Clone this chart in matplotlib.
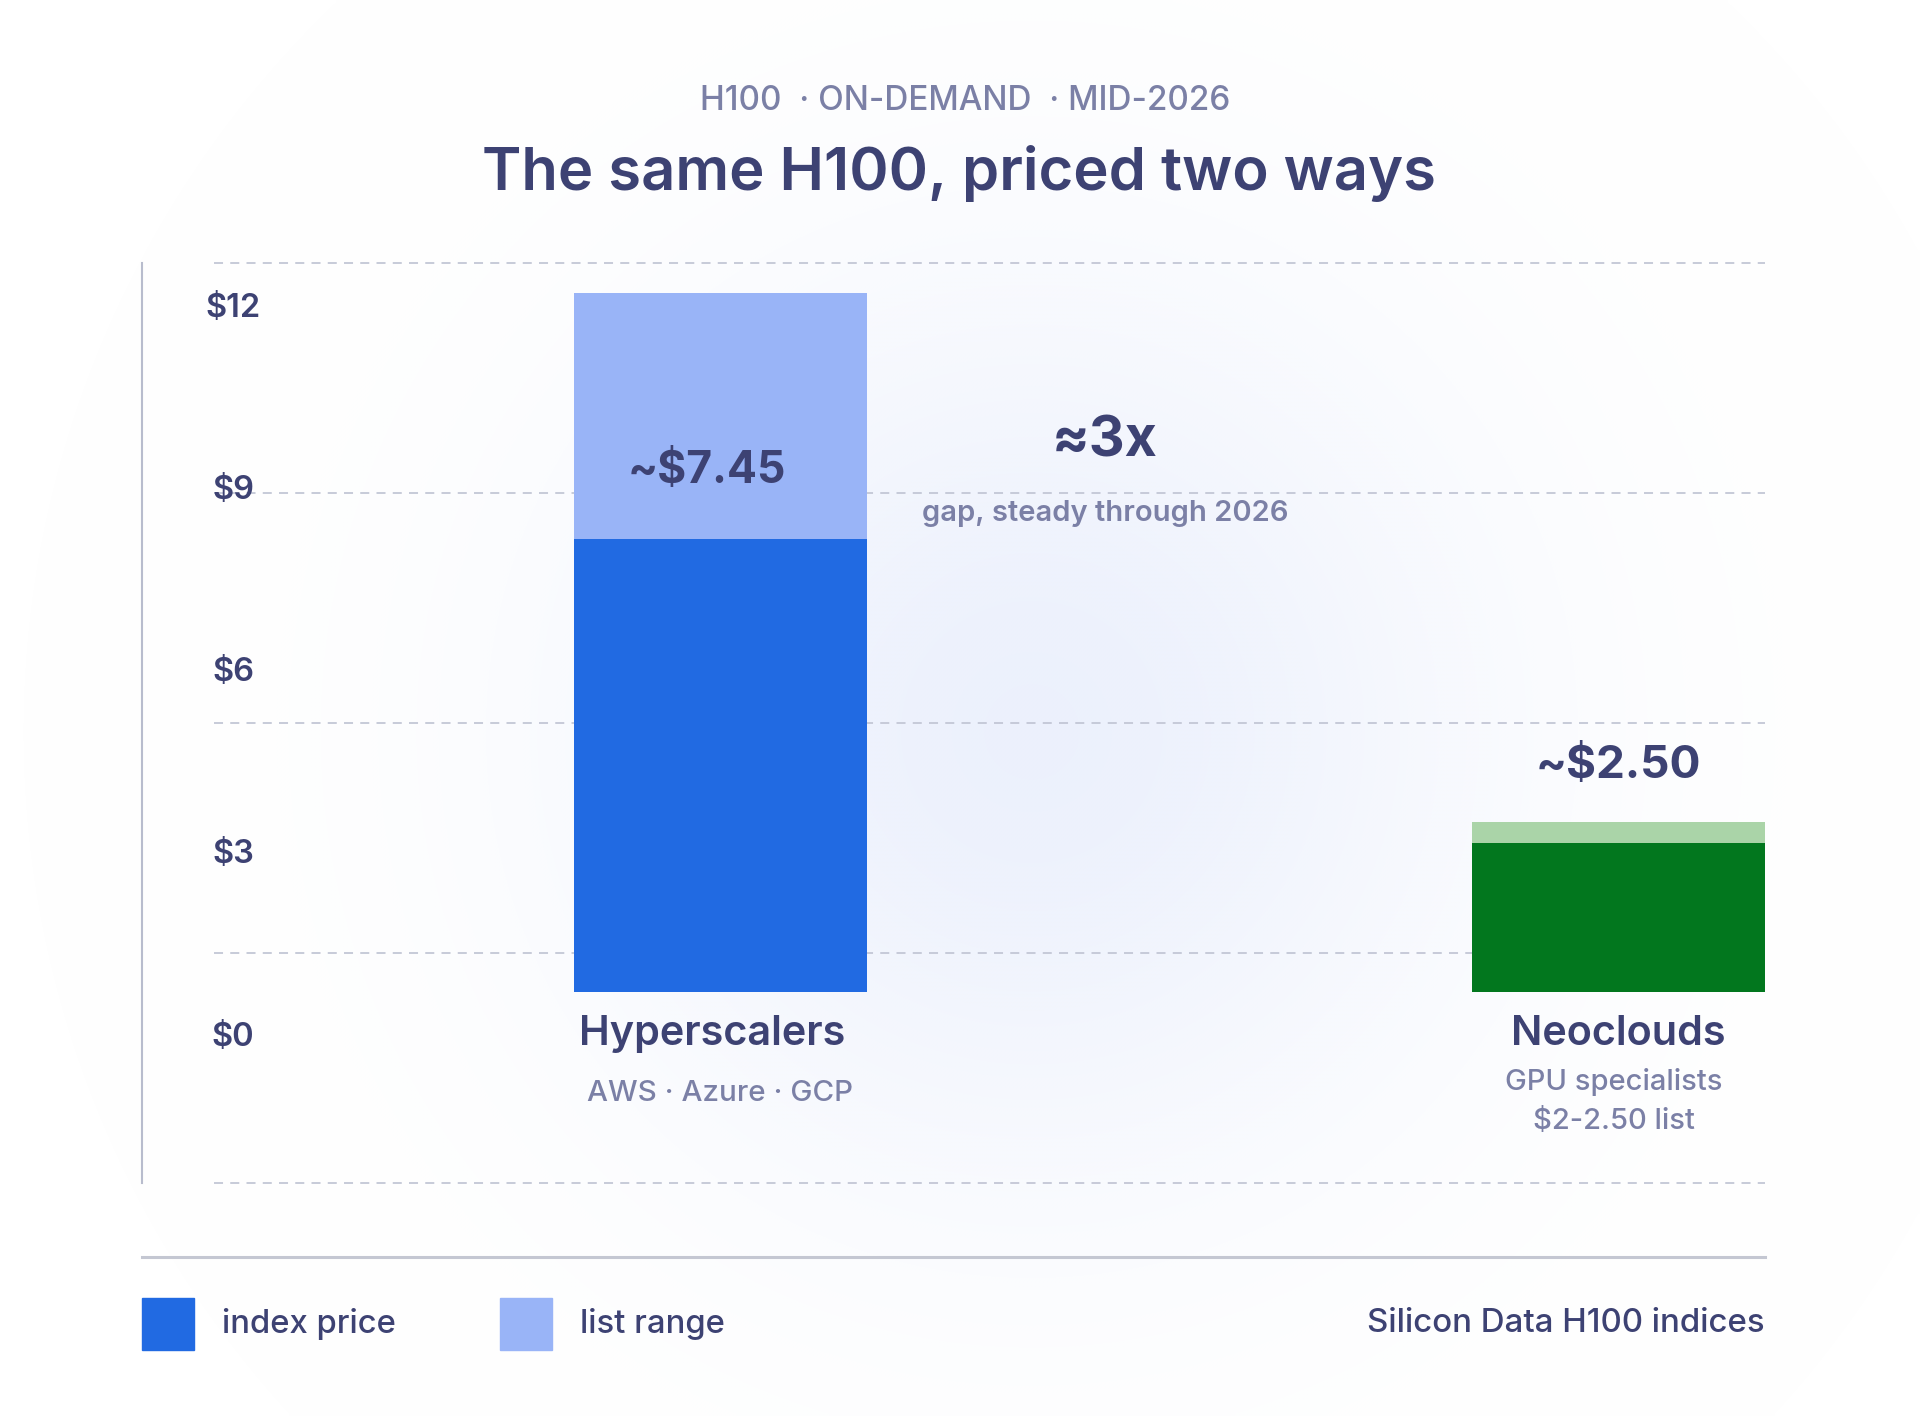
import numpy as np
import matplotlib
matplotlib.use("Agg")
import matplotlib.pyplot as plt
from matplotlib.patches import Rectangle
from matplotlib.lines import Line2D

plt.rcParams['font.family'] = ['Inter', 'DejaVu Sans']

# ---- data ----
categories = ["Hyperscalers", "Neoclouds"]
sub_labels = ["AWS · Azure · GCP", "GPU specialists\n$2-2.50 list"]
index_price = [7.45, 2.45]
list_high = [11.5, 2.8]
price_labels = ["~$7.45", "~$2.50"]
tick_vals = [0, 3, 6, 9, 12]
tick_labels = ["$0", "$3", "$6", "$9", "$12"]

NAVY = "#3d4273"
GREY = "#7b80a6"
BLUE = "#216ae2"
LBLUE = "#99b4f7"
GREEN = "#02771e"
LGREEN = "#aad4a8"
GRID = "#c3c7d6"

W, H = 1920, 1416
fig = plt.figure(figsize=(W / 100, H / 100), dpi=100)
fig.patch.set_facecolor("white")


def fx(x):
    return x / W


def fy(y):
    return 1 - y / H


# soft glow behind the chart
bg = fig.add_axes([0, 0, 1, 1], zorder=-10)
gy, gx = np.mgrid[0:H:4, 0:W:4]
r = np.hypot(gx - 1030, gy - 730)
glow = np.zeros(gx.shape + (4,))
glow[..., :3] = matplotlib.colors.to_rgb("#e6ecfc")
glow[..., 3] = 0.75 * np.exp(-(r / 440) ** 2)
bg.imshow(glow, extent=[0, W, H, 0], aspect="auto", interpolation="bilinear")
bg.set_xlim(0, W)
bg.set_ylim(H, 0)
bg.axis("off")

# ---- main axes ----
ax = fig.add_axes([fx(142), fy(1183), fx(1765) - fx(142), (1183 - 263) / H])
ax.set_facecolor("none")
x = np.arange(len(categories))
bw = 0.326
ax.bar(x, index_price, width=bw, color=[BLUE, GREEN], zorder=3)
ax.bar(x, np.subtract(list_high, index_price), bottom=index_price, width=bw,
       color=[LBLUE, LGREEN], zorder=3)
ax.set_xlim(-0.644, 1.163)
ax.set_ylim(-3.15, 12.0)

for s in ["top", "right", "bottom"]:
    ax.spines[s].set_visible(False)
ax.spines["left"].set_color("#b8bccd")
ax.spines["left"].set_linewidth(1.5)
ax.set_xticks([])

ax.set_yticks(np.array(tick_vals) - 0.69, tick_labels)
ax.tick_params(axis="y", length=0, pad=-65.5, labelsize=23.5, labelcolor=NAVY)
for t in ax.get_yticklabels():
    t.set_ha("center")
    t.set_fontweight("semibold")

lo, hi = ax.get_ylim()
for f in np.linspace(0, 1, 5):
    ax.hlines(lo + f * (hi - lo), -0.564, 1.163, colors=GRID,
              linestyles=(0, (5, 4)), lw=1.3, zorder=1, clip_on=False)

# price labels
ax.text(-0.015, 8.58, price_labels[0], ha="center", va="center",
        fontsize=32, fontweight="bold", color=NAVY, zorder=5)
ax.text(1.0, 3.71, price_labels[1], ha="center", va="center",
        fontsize=33, fontweight="bold", color=NAVY, zorder=5)

# gap annotation
ax.text(0.428, 9.06, "≈3x", ha="center", va="center",
        fontsize=40, fontweight="bold", color=NAVY)
ax.text(0.428, 7.87, "gap, steady through 2026", ha="center", va="center",
        fontsize=21, fontweight="semibold", color=GREY)

# category labels
ax.text(-0.009, -0.69, categories[0], ha="center", va="center",
        fontsize=29.8, fontweight="semibold", color=NAVY)
ax.text(0.0, -1.68, sub_labels[0], ha="center", va="center",
        fontsize=21.3, fontweight="medium", color=GREY)
ax.text(1.0, -0.69, categories[1], ha="center", va="center",
        fontsize=29.8, fontweight="semibold", color=NAVY)
ax.text(0.995, -1.81, sub_labels[1], ha="center", va="center",
        fontsize=21, fontweight="medium", color=GREY, linespacing=1.6)

# ---- titles ----
fig.text(fx(965), fy(101), "H100  · ON-DEMAND  · MID-2026", ha="center", va="center",
         fontsize=24, fontweight="medium", color=GREY)
fig.text(fx(959), fy(174), "The same H100, priced two ways", ha="center", va="center",
         fontsize=43, fontweight="semibold", color=NAVY)

# ---- footer ----
fig.add_artist(Line2D([fx(142), fx(1765)], [fy(1257)] * 2, color="#c4c7d2", lw=2.2))
fig.add_artist(Rectangle((fx(142), fy(1350)), 52 / W, 52 / H, color=BLUE,
                         transform=fig.transFigure))
fig.text(fx(222), fy(1324), "index price", ha="left", va="center",
         fontsize=23.6, fontweight="medium", color=NAVY)
fig.add_artist(Rectangle((fx(500), fy(1350)), 52 / W, 52 / H, color=LBLUE,
                         transform=fig.transFigure))
fig.text(fx(580), fy(1324), "list range", ha="left", va="center",
         fontsize=23.6, fontweight="medium", color=NAVY)
fig.text(fx(1765), fy(1324), "Silicon Data H100 indices", ha="right", va="center",
         fontsize=23.8, fontweight="medium", color=NAVY)

fig.savefig("out.png", dpi=100, facecolor="white")
